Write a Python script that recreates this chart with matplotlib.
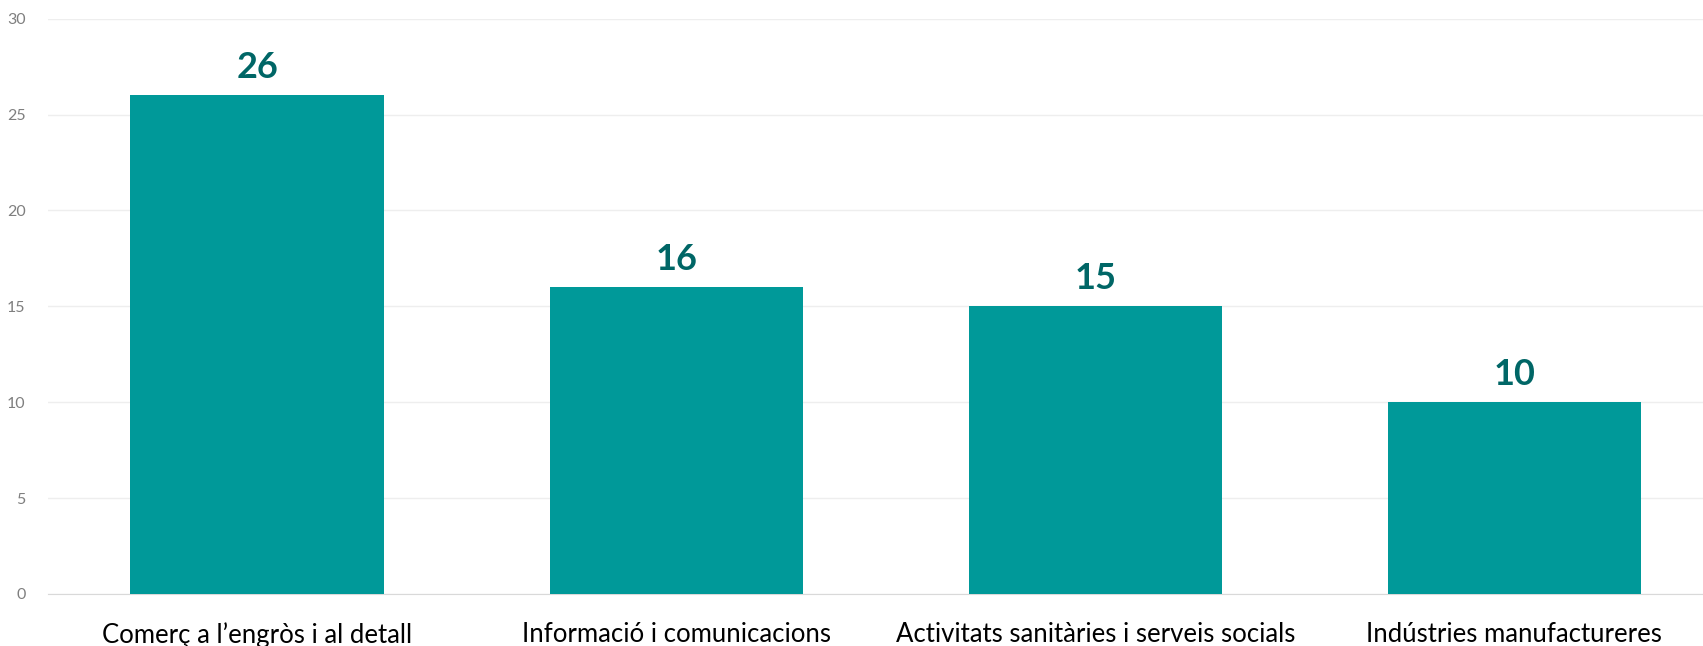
import matplotlib
matplotlib.use("Agg")
import matplotlib.pyplot as plt

categories = ["Comerç a l\u2019engròs i al detall", "Informació i comunicacions",
              "Activitats sanitàries i serveis socials", "Indústries manufactureres"]
values = [26, 16, 15, 10]
yticks = [0, 5, 10, 15, 20, 25, 30]

plt.rcParams['font.family'] = ['Lato', 'DejaVu Sans']

fig = plt.figure(figsize=(17.03, 6.46), dpi=100)
ax = fig.add_axes([0.028, 0.0805, 0.972, 0.8905])

x = range(len(categories))
bars = ax.bar(x, values, width=0.605, color="#009999", zorder=3)
for b, v in zip(bars, values):
    ax.text(b.get_x() + b.get_width() / 2, v + 0.6, str(v), ha="center", va="bottom",
            fontsize=26, fontweight="bold", color="#006666")

ax.set_xlim(-0.5, 3.45)
ax.set_ylim(0, 30)
ax.set_yticks(yticks)
ax.set_xticks(list(x))
ax.set_xticklabels(categories, fontsize=18.5, color="black")
ax.tick_params(axis="x", length=0, pad=20)
ax.tick_params(axis="y", length=0, labelsize=11.5, labelcolor="#7f7f7f", pad=16)
ax.grid(axis="y", color="#eeeeee", linewidth=1, zorder=0)
for s in ["top", "right", "left"]:
    ax.spines[s].set_visible(False)
ax.spines["bottom"].set_color("#d9d9d9")

fig.savefig("out.png", dpi=100)
